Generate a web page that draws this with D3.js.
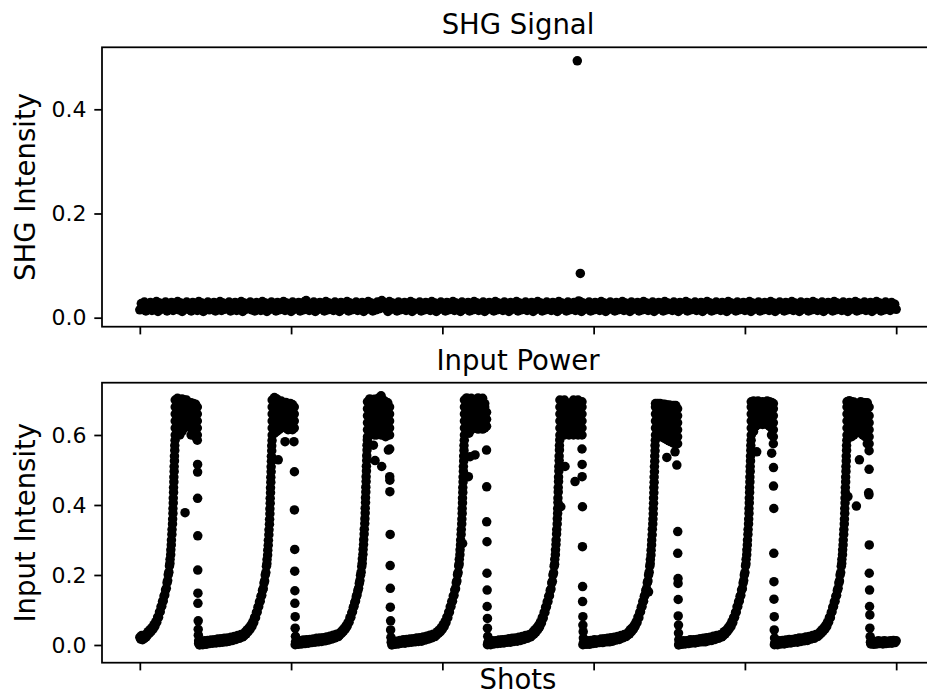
<!DOCTYPE html>
<html>
<head>
<meta charset="utf-8">
<script src="https://cdn.jsdelivr.net/npm/d3@7"></script>
<style>
  body { margin: 0; background: #fff; }
  svg { display: block; }
  text { font-family: "DejaVu Sans", sans-serif; fill: #000; }
</style>
</head>
<body>
<svg id="chart" width="927" height="696"></svg>
<script>
// ---------------- data ----------------

// SHG intensity, one reading every 10 shots (shot 0 .. 5000)
const shgStep = 10;
const shgValues = [
  .015,.027,.019,.030,.013,.025,.017,.029,.014,.026,.018,.031,.012,.028,.016,.025,.019,.030,.013,.027,
  .017,.029,.014,.026,.018,.031,.015,.028,.012,.025,.019,.030,.016,.027,.013,.029,.018,.026,.014,.031,
  .016,.028,.012,.025,.019,.030,.015,.027,.017,.029,.013,.026,.018,.031,.014,.028,.016,.025,.019,.030,
  .013,.027,.017,.029,.014,.026,.018,.031,.012,.028,.016,.025,.019,.030,.015,.027,.013,.029,.017,.026,
  .014,.031,.018,.028,.012,.025,.016,.030,.019,.027,.013,.029,.015,.026,.017,.031,.014,.028,.018,.025,
  .012,.030,.016,.027,.019,.029,.013,.026,.015,.031,.033,.028,.014,.025,.018,.030,.012,.027,.016,.029,
  .019,.026,.013,.031,.015,.028,.017,.025,.014,.030,.018,.027,.012,.029,.016,.026,.019,.031,.013,.028,
  .015,.025,.017,.030,.014,.027,.018,.029,.012,.026,.016,.031,.019,.028,.013,.025,.015,.030,.017,.027,
  .033,.029,.018,.026,.012,.031,.016,.028,.019,.025,.013,.030,.015,.027,.017,.029,.014,.026,.018,.031,
  .012,.028,.016,.025,.019,.030,.013,.027,.015,.029,.017,.026,.014,.031,.018,.028,.012,.025,.016,.030,
  .019,.027,.013,.029,.015,.026,.017,.031,.014,.028,.018,.025,.012,.030,.016,.027,.019,.029,.013,.026,
  .015,.031,.017,.028,.014,.025,.018,.030,.012,.027,.016,.029,.019,.026,.013,.031,.015,.028,.017,.025,
  .014,.030,.018,.027,.012,.029,.016,.026,.019,.031,.013,.028,.015,.025,.017,.030,.014,.027,.018,.029,
  .012,.026,.016,.031,.019,.028,.013,.025,.015,.030,.017,.027,.014,.029,.018,.026,.012,.031,.016,.028,
  .019,.025,.013,.030,.015,.027,.017,.029,.014,.026,.032,.031,.012,.028,.016,.025,.019,.030,.013,.027,
  .015,.029,.017,.026,.014,.031,.018,.028,.012,.025,.016,.030,.019,.027,.013,.029,.015,.026,.017,.031,
  .014,.028,.018,.025,.012,.030,.016,.027,.019,.029,.013,.026,.015,.031,.017,.028,.014,.025,.018,.030,
  .012,.027,.016,.029,.019,.026,.013,.031,.015,.028,.017,.025,.014,.030,.018,.027,.012,.029,.016,.026,
  .019,.031,.013,.028,.015,.025,.017,.030,.014,.027,.018,.029,.012,.026,.016,.031,.019,.028,.013,.025,
  .015,.030,.017,.027,.014,.029,.018,.026,.012,.031,.016,.028,.019,.025,.013,.030,.015,.027,.017,.029,
  .014,.026,.018,.031,.012,.028,.016,.025,.019,.030,.013,.027,.015,.029,.017,.026,.014,.031,.018,.028,
  .012,.025,.016,.030,.019,.027,.013,.029,.015,.026,.017,.031,.014,.028,.018,.025,.012,.030,.016,.027,
  .019,.029,.013,.026,.015,.031,.017,.028,.014,.025,.018,.030,.012,.027,.016,.029,.019,.026,.013,.031,
  .015,.028,.017,.025,.014,.030,.018,.027,.012,.029,.016,.026,.019,.031,.013,.028,.015,.025,.017,.030,
  .014,.027,.018,.029,.012,.026,.016,.031,.019,.028,.013,.025,.015,.030,.017,.027,.014,.029,.018,.026,
  .016
];
// two isolated SHG spikes: [shot, intensity]
const shgSpikes = [[2892, .493], [2912, .085]];

// Input power: shot at which each laser pulse falls back to zero
const pulseDrops = [380, 1021, 1651, 2292, 2923, 3555, 4188, 4821];

// Each row: shot relative to the pulse's drop, then the intensities logged around that shot
const pulse1 = [
  [-380,.022],[-374,.017],[-368,.027],[-362,.015],[-356,.025],[-350,.019],[-344,.029],[-338,.023],
  [-331,.028],[-325,.038],[-318,.033],[-312,.044],[-305,.039],[-299,.050],[-292,.046],[-286,.058],[-280,.054],[-274,.067],[-268,.065],[-262,.080],[-256,.079],[-250,.094],[-245,.095],[-240,.109],[-235,.111],[-230,.124],[-225,.126],[-220,.140],[-215,.143],[-210,.157],[-205,.162],[-200,.178],[-196,.184],[-192,.201],[-188,.208],[-184,.226],[-181,.233],
  [-180,.245],[-176,.258],[-175,.272],[-172,.286],[-171,.300],[-168,.316],[-167,.330],[-164,.346],[-163,.360],[-161,.376,.390],[-159,.406,.420],[-157,.436,.450],[-155,.466,.480],[-153,.496,.510],[-151,.526,.540],[-149,.556,.570],[-147,.585],
  [-146,.60,.62,.64,.66,.68,.70],[-131,.61,.63,.65,.67,.69,.705],[-116,.60,.62,.64,.66,.68,.70],[-101,.61,.63,.65,.67,.69,.703],
  [-86,.62,.64,.66,.68,.70],[-71,.65,.67,.69,.70],[-56,.63,.65,.67,.69],[-41,.60,.62,.64,.66,.68,.692],
  [-26,.61,.63,.65,.67,.69],[-12,.595,.615,.635,.655,.675,.688],[0,.60,.62,.64,.66,.68],
  [-81,.378],
  [0,.585],[2,.516,.494,.419],[3,.312,.214],[4,.148,.119],[6,.069,.045],[7,.028],[9,.012,.004],[12,.010]
];

const pulse2 = [
  [-626,.000],[-616,.010],[-605,.001],[-594,.012],[-583,.002],[-572,.013],[-561,.004],[-550,.014],[-539,.005],[-528,.015],[-517,.006],[-506,.017],[-495,.007],[-484,.018],[-473,.008],[-462,.019],[-451,.009],[-440,.020],[-429,.011],[-418,.022],[-407,.013],[-396,.024],[-385,.016],[-374,.027],[-363,.019],[-352,.030],[-341,.023],
  [-331,.027],[-325,.037],[-318,.032],[-312,.043],[-305,.038],[-299,.049],[-292,.045],[-286,.057],[-280,.053],[-274,.066],[-268,.064],[-262,.079],[-256,.078],[-250,.093],[-245,.094],[-240,.108],[-235,.110],[-230,.123],[-225,.125],[-220,.139],[-215,.142],[-210,.156],[-205,.161],[-200,.177],[-196,.183],[-192,.200],[-188,.207],[-184,.225],[-181,.232],
  [-180,.244],[-176,.257],[-175,.271],[-172,.285],[-171,.299],[-168,.315],[-167,.329],[-164,.345],[-163,.359],[-161,.375,.389],[-159,.405,.419],[-157,.435,.449],[-155,.465,.479],[-153,.495,.509],[-151,.525,.539],[-149,.555,.569],[-147,.584],
  [-146,.60,.62,.64,.66,.68,.70],[-131,.605,.625,.645,.665,.685,.707],[-116,.61,.63,.65,.67,.69,.703],[-101,.615,.635,.655,.675,.695],
  [-86,.62,.64,.66,.68,.697],[-71,.63,.65,.67,.69],[-56,.62,.64,.66,.68,.693],[-41,.615,.635,.655,.675,.69],
  [-26,.617,.637,.657,.677,.69],[-12,.615,.635,.655,.675,.687],[0,.62,.64,.66,.68],
  [-106,.529],[-61,.581],[-2,.581],
  [1,.495,.386],[3,.273,.211],[4,.155,.119],[6,.081,.048],[8,.025],[9,.010],[11,.003]
];

const pulse3 = [
  [-624,.001],[-614,.011],[-603,.002],[-592,.012],[-581,.003],[-570,.014],[-559,.004],[-548,.015],[-537,.005],[-526,.016],[-515,.007],[-504,.017],[-493,.008],[-482,.019],[-471,.009],[-460,.020],[-449,.010],[-438,.021],[-427,.012],[-416,.023],[-405,.014],[-394,.025],[-383,.017],[-372,.028],[-361,.020],[-350,.031],[-339,.024],
  [-331,.028],[-325,.036],[-318,.033],[-312,.042],[-305,.039],[-299,.048],[-292,.046],[-286,.056],[-280,.054],[-274,.065],[-268,.065],[-262,.078],[-256,.079],[-250,.092],[-245,.095],[-240,.107],[-235,.111],[-230,.122],[-225,.126],[-220,.138],[-215,.143],[-210,.155],[-205,.162],[-200,.176],[-196,.184],[-192,.199],[-188,.208],[-184,.224],[-181,.233],
  [-180,.246],[-176,.259],[-175,.273],[-172,.287],[-171,.301],[-168,.317],[-167,.331],[-164,.347],[-163,.361],[-161,.377,.391],[-159,.407,.421],[-157,.437,.451],[-155,.467,.481],[-153,.497,.511],[-151,.527,.541],[-149,.557,.571],[-147,.586],
  [-146,.595,.615,.635,.655,.675,.695],[-131,.60,.62,.64,.66,.68,.703],[-116,.605,.625,.645,.665,.685,.70],[-101,.60,.62,.64,.66,.68,.702],
  [-86,.60,.62,.64,.66,.68,.70],[-71,.605,.625,.645,.665,.685,.706],[-56,.60,.62,.64,.66,.68,.70,.712],[-41,.60,.62,.64,.66,.68,.70],
  [-26,.595,.615,.635,.655,.675,.695],[-12,.60,.62,.64,.66,.68,.692],[0,.60,.62,.64,.66,.68],
  [-107,.571],[-96,.527],[-52,.510],[-8,.557],
  [1,.560,.481],[2,.471,.438],[4,.316,.227],[5,.162,.108],[7,.069,.043],[9,.022],[11,.008]
];

const pulse4 = [
  [-626,.000],[-616,.011],[-605,.002],[-594,.011],[-583,.003],[-572,.013],[-561,.005],[-550,.015],[-539,.005],[-528,.016],[-517,.007],[-506,.017],[-495,.008],[-484,.018],[-473,.009],[-462,.020],[-451,.010],[-440,.021],[-429,.011],[-418,.023],[-407,.014],[-396,.025],[-385,.017],[-374,.028],[-363,.020],[-352,.031],[-341,.024],
  [-331,.029],[-325,.038],[-318,.033],[-312,.043],[-305,.038],[-299,.050],[-292,.045],[-286,.058],[-280,.053],[-274,.067],[-268,.064],[-262,.080],[-256,.078],[-250,.094],[-245,.094],[-240,.109],[-235,.110],[-230,.124],[-225,.125],[-220,.140],[-215,.142],[-210,.157],[-205,.161],[-200,.178],[-196,.183],[-192,.201],[-188,.207],[-184,.226],[-181,.232],
  [-180,.245],[-176,.258],[-175,.272],[-172,.286],[-171,.300],[-168,.316],[-167,.330],[-164,.346],[-163,.360],[-161,.376,.390],[-159,.406,.420],[-157,.436,.450],[-155,.466,.480],[-153,.496,.510],[-151,.526,.540],[-149,.556,.570],[-147,.585],
  [-158,.290],
  [-146,.60,.62,.64,.66,.68,.70],[-131,.61,.63,.65,.67,.69,.706],[-116,.605,.625,.645,.665,.685,.70],[-101,.615,.635,.655,.675,.695,.705],
  [-86,.645,.665,.685,.70],[-71,.62,.64,.66,.68,.70],[-56,.617,.637,.657,.677,.697,.706],[-41,.62,.64,.66,.68,.70],
  [-26,.617,.637,.657,.677,.697,.705],[-12,.62,.64,.66,.68,.69],[0,.625,.645,.665],
  [-109,.538],[-120,.481],[-76,.543],
  [0,.557],[1,.452,.352],[3,.295,.205],[4,.157,.110],[6,.076,.048],[8,.025],[10,.008]
];

const pulse5 = [
  [-625,.001],[-615,.010],[-604,.001],[-593,.012],[-582,.003],[-571,.012],[-560,.004],[-549,.014],[-538,.005],[-527,.015],[-516,.006],[-505,.016],[-494,.008],[-483,.018],[-472,.008],[-461,.019],[-450,.010],[-439,.020],[-428,.011],[-417,.022],[-406,.013],[-395,.024],[-384,.016],[-373,.027],[-362,.019],[-351,.029],[-340,.023],
  [-331,.027],[-325,.037],[-318,.031],[-312,.043],[-305,.037],[-299,.049],[-292,.044],[-286,.057],[-280,.052],[-274,.066],[-268,.063],[-262,.079],[-256,.077],[-250,.093],[-245,.093],[-240,.108],[-235,.109],[-230,.123],[-225,.124],[-220,.139],[-215,.141],[-210,.156],[-205,.160],[-200,.177],[-196,.182],[-192,.200],[-188,.206],[-184,.225],[-181,.231],
  [-180,.245],[-176,.258],[-175,.272],[-172,.287],[-171,.300],[-168,.317],[-167,.330],[-164,.346],[-163,.361],[-161,.376,.390],[-159,.407,.420],[-157,.437,.450],[-155,.467,.480],[-153,.497,.510],[-151,.527,.540],[-149,.557,.570],[-147,.586],
  [-140,.395],
  [-146,.60,.62,.64,.66,.68,.70],[-131,.61,.63,.65,.67,.69],[-116,.60,.62,.64,.66,.68,.70],[-101,.61,.63,.65,.67,.69],
  [-86,.60,.62,.64,.66,.68],[-71,.61,.63,.65,.67,.687],[-56,.60,.62,.64,.66,.68,.70],[-41,.61,.63,.65,.67,.69],
  [-26,.60,.62,.64,.66,.68,.70],[-12,.61,.63,.65,.67,.69],[0,.60,.62,.64,.66,.68,.695],
  [-112,.510],[-46,.467],
  [0,.560],[1,.516,.481],[3,.395,.281],[4,.167,.124],[6,.081,.057],[8,.038],[9,.020],[11,.007]
];

const pulse6 = [
  [-626,.001],[-616,.011],[-605,.002],[-594,.012],[-583,.002],[-572,.013],[-561,.004],[-550,.015],[-539,.005],[-528,.014],[-517,.007],[-506,.017],[-495,.007],[-484,.018],[-473,.009],[-462,.019],[-451,.009],[-440,.021],[-429,.011],[-418,.022],[-407,.014],[-396,.024],[-385,.016],[-374,.027],[-363,.020],[-352,.030],[-341,.024],
  [-331,.028],[-325,.037],[-318,.032],[-312,.044],[-305,.038],[-299,.049],[-292,.045],[-286,.057],[-280,.054],[-274,.066],[-268,.064],[-262,.080],[-256,.078],[-250,.093],[-245,.095],[-240,.108],[-235,.110],[-230,.124],[-225,.125],[-220,.139],[-215,.143],[-210,.156],[-205,.161],[-200,.178],[-196,.183],[-192,.200],[-188,.208],[-184,.225],[-181,.232],
  [-180,.244],[-176,.257],[-175,.271],[-172,.286],[-171,.300],[-168,.315],[-167,.331],[-164,.346],[-163,.360],[-161,.375,.390],[-159,.405,.420],[-157,.435,.450],[-155,.465,.480],[-153,.495,.510],[-151,.525,.540],[-149,.555,.570],[-147,.585],
  [-192,.152],
  [-146,.60,.62,.64,.66,.68,.69],[-131,.60,.62,.64,.66,.68,.69],[-116,.597,.617,.637,.657,.677,.69],[-101,.594,.614,.634,.654,.674,.688],
  [-86,.59,.61,.63,.65,.67,.688],[-71,.587,.607,.627,.647,.667,.686],[-56,.583,.603,.623,.643,.663,.686],[-41,.58,.60,.62,.64,.66,.684],
  [-26,.577,.597,.617,.637,.657,.677,.684],[-12,.574,.594,.614,.634,.654,.674,.684],[0,.575,.595,.615,.635,.655,.675],
  [-71,.536],[-17,.552],[-5,.514],
  [1,.324,.262],[3,.190,.176],[4,.130,.083],[6,.057,.034],[8,.015],[10,.005]
];

const pulse7 = [
  [-626,.000],[-616,.010],[-605,.002],[-594,.012],[-583,.003],[-572,.012],[-561,.004],[-550,.015],[-539,.006],[-528,.015],[-517,.006],[-506,.016],[-495,.008],[-484,.018],[-473,.009],[-462,.019],[-451,.009],[-440,.021],[-429,.012],[-418,.022],[-407,.013],[-396,.025],[-385,.016],[-374,.027],[-363,.019],[-352,.029],[-341,.023],
  [-331,.027],[-325,.038],[-318,.032],[-312,.042],[-305,.038],[-299,.049],[-292,.046],[-286,.057],[-280,.053],[-274,.067],[-268,.064],[-262,.079],[-256,.079],[-250,.093],[-245,.094],[-240,.109],[-235,.110],[-230,.123],[-225,.126],[-220,.139],[-215,.142],[-210,.157],[-205,.161],[-200,.177],[-196,.184],[-192,.200],[-188,.207],[-184,.226],[-181,.232],
  [-180,.245],[-176,.258],[-175,.272],[-172,.286],[-171,.300],[-168,.316],[-167,.330],[-164,.346],[-163,.360],[-161,.376,.390],[-159,.406,.420],[-157,.436,.450],[-155,.466,.480],[-153,.496,.510],[-151,.526,.540],[-149,.556,.570],[-147,.585],
  [-146,.60,.62,.64,.66,.68,.695],[-131,.61,.63,.65,.67,.69,.697],[-116,.625,.645,.665,.685,.695],[-101,.63,.65,.67,.69,.697],
  [-86,.632,.652,.672,.692],[-71,.63,.65,.67,.69,.695],[-56,.632,.652,.672,.692],[-41,.63,.65,.67,.69,.697],
  [-26,.625,.645,.665,.685,.695],[-12,.60,.62,.64,.66,.68,.693],[0,.575,.595,.615,.635,.655,.675,.69],
  [-110,.552],[-11,.548],
  [1,.507,.454],[3,.390,.262],[4,.181,.131],[6,.081,.043],[8,.020],[10,.006]
];

const pulse8 = [
  [-626,.001],[-616,.010],[-605,.001],[-594,.012],[-583,.003],[-572,.013],[-561,.003],[-550,.014],[-539,.005],[-528,.016],[-517,.006],[-506,.016],[-495,.008],[-484,.018],[-473,.008],[-462,.020],[-451,.010],[-440,.020],[-429,.012],[-418,.023],[-407,.013],[-396,.024],[-385,.017],[-374,.027],[-363,.019],[-352,.030],[-341,.024],
  [-331,.028],[-325,.037],[-318,.033],[-312,.043],[-305,.039],[-299,.049],[-292,.045],[-286,.057],[-280,.053],[-274,.066],[-268,.065],[-262,.079],[-256,.078],[-250,.093],[-245,.095],[-240,.108],[-235,.110],[-230,.123],[-225,.125],[-220,.139],[-215,.142],[-210,.156],[-205,.162],[-200,.177],[-196,.183],[-192,.200],[-188,.207],[-184,.225],[-181,.233],
  [-180,.245],[-176,.258],[-175,.272],[-172,.286],[-171,.300],[-168,.316],[-167,.330],[-164,.346],[-163,.360],[-161,.376,.390],[-159,.406,.420],[-157,.436,.450],[-155,.466,.480],[-153,.496,.510],[-151,.526,.540],[-149,.556,.570],[-147,.585],
  [-140,.424],
  [-146,.60,.62,.64,.66,.68,.695],[-131,.60,.62,.64,.66,.68,.698],[-116,.595,.615,.635,.655,.675,.695],[-101,.60,.62,.64,.66,.68,.694],
  [-86,.61,.63,.65,.67,.69],[-71,.615,.635,.655,.675,.69],[-56,.605,.625,.645,.665,.685,.695],[-41,.60,.62,.64,.66,.68,.693],
  [-26,.595,.615,.635,.655,.675,.692],[-12,.575,.595,.615,.635,.655,.675,.692],[0,.555,.575,.595,.615,.635,.655,.68],
  [-64,.529],[0,.502],[-3,.435],[-1,.429],[-84,.397],
  [1,.286,.205],[3,.157,.110],[5,.086,.048],[7,.024],[9,.008]
];

const pulses = [pulse1, pulse2, pulse3, pulse4, pulse5, pulse6, pulse7, pulse8];

// readings after the last pulse: [shot, intensity]
const inputTail = [
  [4832,.003],[4842,.011],[4852,.002],[4862,.010],[4872,.003],[4882,.012],[4892,.004],[4902,.011],
  [4912,.003],[4922,.012],[4932,.004],[4942,.011],[4952,.005],[4962,.012],[4972,.005],[4982,.013],[4992,.007],[5000,.012]
];

// axis ticks and limits
const shotTicks = [0, 1000, 2000, 3000, 4000, 5000];
const shgTicks = [0.0, 0.2, 0.4];
const inputTicks = [0.0, 0.2, 0.4, 0.6];
const shotLimits = [-250, 5250];
const shgLimits = [-0.0173, 0.519];
const inputLimits = [-0.0506, 0.7494];

// ---------------- build point lists ----------------
const shgPoints = shgValues.map((v, i) => [i * shgStep, v]).concat(shgSpikes);
const inputPoints = [];
pulses.forEach((rows, k) => rows.forEach(row => {
  row.slice(1).forEach(v => inputPoints.push([pulseDrops[k] + row[0], v]));
}));
inputTail.forEach(d => inputPoints.push(d));

// ---------------- drawing ----------------
const svg = d3.select("#chart");
const axLeft = 102, axRight = 934;
const lw = 1.76, tickLen = 7.7, tickPad = 7.7;
const x = d3.scaleLinear().domain(shotLimits).range([axLeft, axRight]);

const panels = [
  { top: 47.3, bottom: 326.7, limits: shgLimits, ticks: shgTicks,
    title: "SHG Signal", ylabel: "SHG Intensity", points: shgPoints },
  { top: 382.7, bottom: 662.7, limits: inputLimits, ticks: inputTicks,
    title: "Input Power", ylabel: "Input Intensity", points: inputPoints }
];

panels.forEach(pn => {
  const y = d3.scaleLinear().domain(pn.limits).range([pn.bottom, pn.top]);
  const g = svg.append("g");

  // scatter marks
  g.append("g").selectAll("circle")
    .data(pn.points)
    .join("circle")
    .attr("cx", d => x(d[0]))
    .attr("cy", d => y(d[1]))
    .attr("r", 4.75)
    .attr("fill", "#000");

  // y axis
  const ya = g.append("g")
    .attr("transform", `translate(${axLeft},0)`)
    .call(d3.axisLeft(y).tickValues(pn.ticks).tickSize(tickLen).tickPadding(tickPad)
      .tickFormat(d3.format(".1f")));
  ya.select(".domain").remove();
  ya.selectAll(".tick line").attr("stroke", "#000").attr("stroke-width", lw);
  ya.selectAll(".tick text").attr("font-size", 22).attr("font-family", "DejaVu Sans")
    .attr("fill", "#000");

  // x axis (ticks only)
  const xa = g.append("g")
    .attr("transform", `translate(0,${pn.bottom})`)
    .call(d3.axisBottom(x).tickValues(shotTicks).tickSize(tickLen).tickFormat(""));
  xa.select(".domain").remove();
  xa.selectAll(".tick line").attr("stroke", "#000").attr("stroke-width", lw);

  // frame
  g.append("rect")
    .attr("x", axLeft).attr("y", pn.top)
    .attr("width", axRight - axLeft).attr("height", pn.bottom - pn.top)
    .attr("fill", "none").attr("stroke", "#000").attr("stroke-width", lw);

  // title
  g.append("text")
    .attr("x", (axLeft + axRight) / 2).attr("y", pn.top - 13.2)
    .attr("text-anchor", "middle").attr("font-size", 27.5)
    .text(pn.title);

  // y label
  g.append("text")
    .attr("transform", `translate(35,${(pn.top + pn.bottom) / 2}) rotate(-90)`)
    .attr("text-anchor", "middle").attr("font-size", 27.5)
    .text(pn.ylabel);
});

// x label
svg.append("text")
  .attr("x", (axLeft + axRight) / 2).attr("y", 689)
  .attr("text-anchor", "middle").attr("font-size", 27.5)
  .text("Shots");
</script>
</body>
</html>
